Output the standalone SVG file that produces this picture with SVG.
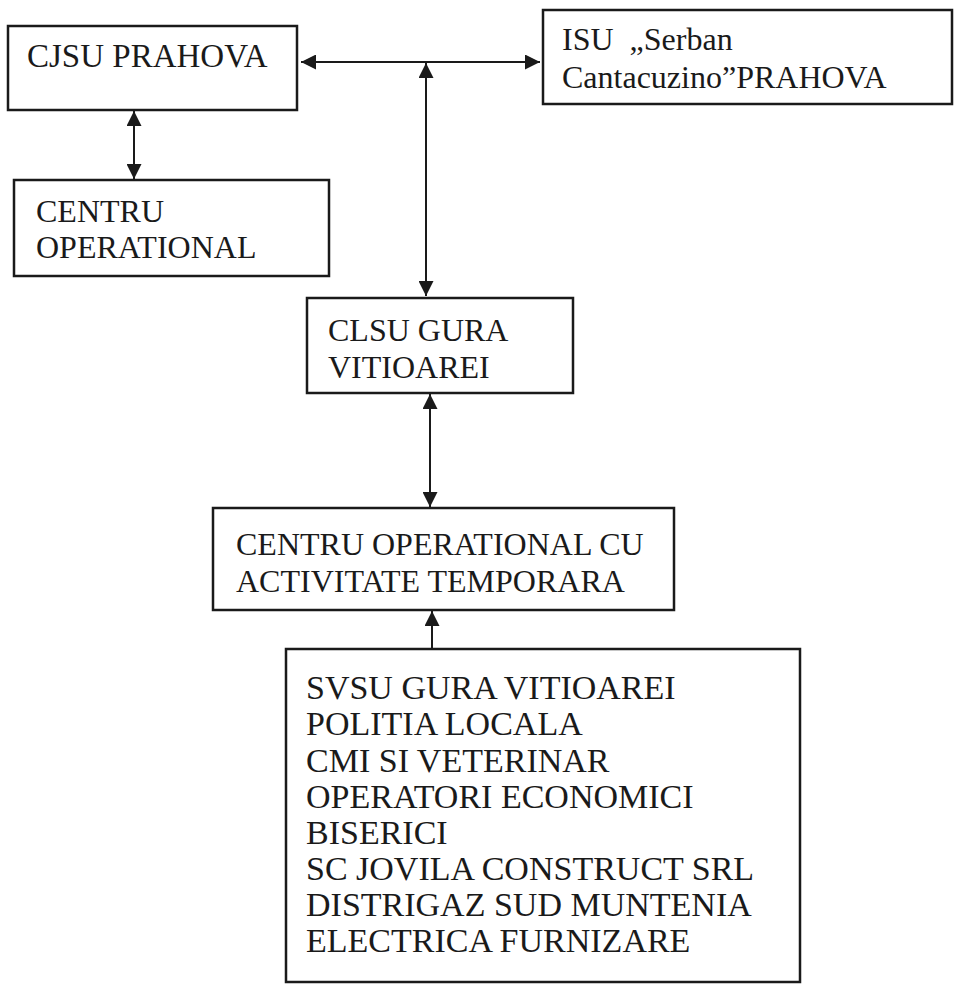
<svg xmlns="http://www.w3.org/2000/svg" width="956" height="990" viewBox="0 0 956 990">
<defs>
<marker id="ah" viewBox="0 0 10 10" refX="10" refY="5" markerWidth="15" markerHeight="15" markerUnits="userSpaceOnUse" orient="auto-start-reverse">
<path d="M0,0 L10,5 L0,10 z" fill="#1a1a1a"/>
</marker>
<style>
.box{fill:#fff;stroke:#1a1a1a;stroke-width:2.5}
.t{font-family:"Liberation Serif","Times New Roman",serif;font-size:32px;fill:#1a1a1a}
.big{font-size:34px}
.c{stroke:#1a1a1a;stroke-width:2;fill:none}
</style>
</defs>
<rect width="956" height="990" fill="#fff"/>
<g id="cjsu">
<rect class="box" x="8" y="26" width="289" height="84"/>
<text class="t" x="27" y="67" style="font-size:33px">CJSU PRAHOVA</text>
</g>
<g id="isu">
<rect class="box" x="543" y="10" width="409" height="94"/>
<text class="t" x="562" y="50" xml:space="preserve">ISU  „Serban</text>
<text class="t" x="562" y="88">Cantacuzino”PRAHOVA</text>
</g>
<g id="centru-op">
<rect class="box" x="14" y="180" width="315" height="96"/>
<text class="t" x="36" y="222">CENTRU</text>
<text class="t" x="36" y="258">OPERATIONAL</text>
</g>
<g id="clsu">
<rect class="box" x="307" y="298" width="266" height="95"/>
<text class="t" x="328" y="341">CLSU GURA</text>
<text class="t" x="328" y="378">VITIOAREI</text>
</g>
<g id="centru-temp">
<rect class="box" x="213" y="508" width="461" height="102"/>
<text class="t" x="236" y="555">CENTRU OPERATIONAL CU</text>
<text class="t" x="236" y="592">ACTIVITATE TEMPORARA</text>
</g>
<g id="svsu">
<rect class="box" x="286" y="649" width="514" height="333"/>
<text class="t big" x="306" y="699">SVSU GURA VITIOAREI</text>
<text class="t big" x="306" y="735">POLITIA LOCALA</text>
<text class="t big" x="306" y="772">CMI SI VETERINAR</text>
<text class="t big" x="306" y="808">OPERATORI ECONOMICI</text>
<text class="t big" x="306" y="844">BISERICI</text>
<text class="t big" x="306" y="880">SC JOVILA CONSTRUCT SRL</text>
<text class="t big" x="306" y="916">DISTRIGAZ SUD MUNTENIA</text>
<text class="t big" x="306" y="952">ELECTRICA FURNIZARE</text>
</g>
<g id="connectors">
<line class="c" x1="301" y1="62" x2="540" y2="62" marker-start="url(#ah)" marker-end="url(#ah)"/>
<line class="c" x1="426" y1="63" x2="426" y2="296" marker-start="url(#ah)" marker-end="url(#ah)"/>
<line class="c" x1="134" y1="111" x2="134" y2="179" marker-start="url(#ah)" marker-end="url(#ah)"/>
<line class="c" x1="430" y1="394" x2="430" y2="507" marker-start="url(#ah)" marker-end="url(#ah)"/>
<line class="c" x1="432" y1="648" x2="432" y2="611" marker-end="url(#ah)"/>
</g>
</svg>
